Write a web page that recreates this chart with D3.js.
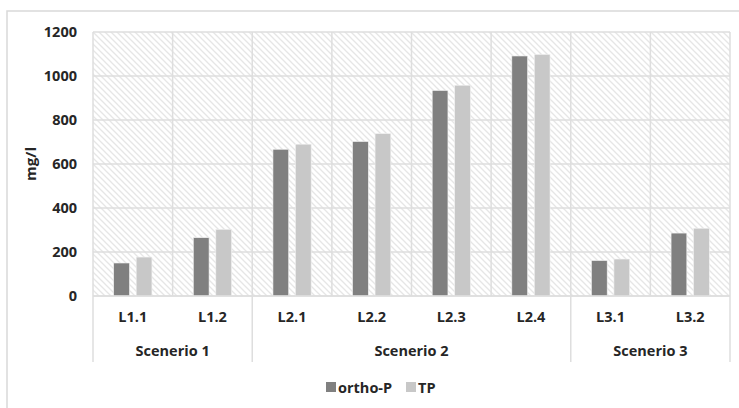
<!DOCTYPE html>
<html>
<head>
<meta charset="utf-8">
<script src="https://cdn.jsdelivr.net/npm/d3@7"></script>
<style>
  body { margin: 0; background: #fff; }
  text { font-family: "Open Sans", "Liberation Sans", sans-serif; font-weight: bold; fill: #262626; }
</style>
</head>
<body>
<script>
// chart data
var categories = ["L1.1", "L1.2", "L2.1", "L2.2", "L2.3", "L2.4", "L3.1", "L3.2"];
var groups = [
  {name: "Scenerio 1", from: 0, to: 2},
  {name: "Scenerio 2", from: 2, to: 6},
  {name: "Scenerio 3", from: 6, to: 8}
];
var seriesNames = ["ortho-P", "TP"];
var orthoP = [150, 265, 667, 702, 934, 1091, 161, 286];
var tp = [177, 303, 690, 738, 958, 1098, 168, 308];
var yTicks = [0, 200, 400, 600, 800, 1000, 1200];
var colors = ["#808080", "#c8c8c8"];

var width = 739, height = 408;
var m = {left: 93, top: 32, right: 9, bottom: 112};
var pw = width - m.left - m.right, ph = height - m.top - m.bottom;

var svg = d3.select("body").append("svg")
    .attr("width", width)
    .attr("height", height);

// hatch pattern for plot background
var defs = svg.append("defs");
var pat = defs.append("pattern")
    .attr("id", "hatch")
    .attr("patternUnits", "userSpaceOnUse")
    .attr("width", 6).attr("height", 6);
pat.append("rect").attr("width", 6).attr("height", 6).attr("fill", "#fff");
pat.append("path")
    .attr("d", "M-1,-1 L7,7 M-4,2 L2,8 M4,-2 L8,2")
    .attr("stroke", "#e6e6e6")
    .attr("stroke-width", 1.3);

// outer chart border (clipped by the picture on right/bottom)
svg.append("rect")
    .attr("x", 7).attr("y", 11)
    .attr("width", 740).attr("height", 410)
    .attr("fill", "none")
    .attr("stroke", "#d9d9d9")
    .attr("stroke-width", 1.5);

var g = svg.append("g").attr("transform", "translate(" + m.left + "," + m.top + ")");

var x = d3.scaleBand().domain(categories).range([0, pw]);
var y = d3.scaleLinear().domain([0, 1200]).range([ph, 0]);

g.append("rect")
    .attr("width", pw).attr("height", ph)
    .attr("fill", "url(#hatch)");

// horizontal grid
g.selectAll(".hgrid").data(yTicks).enter().append("line")
    .attr("x1", 0).attr("x2", pw)
    .attr("y1", function(d) { return y(d); })
    .attr("y2", function(d) { return y(d); })
    .attr("stroke", "#dedede").attr("stroke-width", 1.5);

// vertical grid at category boundaries
var bounds = d3.range(categories.length + 1).map(function(i) { return i * x.step(); });
g.selectAll(".vgrid").data(bounds).enter().append("line")
    .attr("x1", function(d) { return d; }).attr("x2", function(d) { return d; })
    .attr("y1", 0).attr("y2", ph)
    .attr("stroke", "#dedede").attr("stroke-width", 1.5);

// bars
var x1 = d3.scaleBand().domain(seriesNames).range([x.step() * 0.26, x.step() * 0.74]).paddingInner(0.3);
var rows = categories.map(function(c, i) { return {cat: c, vals: [orthoP[i], tp[i]]}; });
var cat = g.selectAll(".cat").data(rows).enter().append("g")
    .attr("transform", function(d) { return "translate(" + x(d.cat) + ",0)"; });
cat.selectAll("rect").data(function(d) { return d.vals; }).enter().append("rect")
    .attr("x", function(d, i) { return x1(seriesNames[i]); })
    .attr("width", x1.bandwidth())
    .attr("y", function(d) { return y(d); })
    .attr("height", function(d) { return ph - y(d); })
    .attr("fill", function(d, i) { return colors[i]; })
    .attr("stroke", "#f2f2f2").attr("stroke-width", 0.6);

// y axis
var yAxis = g.append("g").call(d3.axisLeft(y).tickValues(yTicks).tickFormat(d3.format("d")).tickSize(0).tickPadding(16));
yAxis.select(".domain").remove();
yAxis.selectAll("text").style("font-size", "14.5px").attr("fill", "#262626");

svg.append("text")
    .attr("transform", "translate(36," + (m.top + ph / 2) + ") rotate(-90)")
    .attr("text-anchor", "middle")
    .style("font-size", "15px")
    .text("mg/l");

// category axis
g.append("line").attr("x1", 0).attr("x2", pw).attr("y1", ph).attr("y2", ph)
    .attr("stroke", "#dedede").attr("stroke-width", 1.5);
var xAxis = g.append("g").attr("transform", "translate(0," + ph + ")")
    .call(d3.axisBottom(x).tickSize(0).tickPadding(16));
xAxis.select(".domain").remove();
xAxis.selectAll("text").style("font-size", "14.5px").attr("fill", "#262626");

// group separators and labels
var gb = [0].concat(groups.map(function(d) { return d.to * x.step(); }));
g.selectAll(".sep").data(gb).enter().append("line")
    .attr("x1", function(d) { return d; }).attr("x2", function(d) { return d; })
    .attr("y1", ph).attr("y2", ph + 66)
    .attr("stroke", "#dedede").attr("stroke-width", 1.5);
g.selectAll(".grp").data(groups).enter().append("text")
    .attr("x", function(d) { return (d.from + d.to) / 2 * x.step(); })
    .attr("y", ph + 60)
    .attr("text-anchor", "middle")
    .style("font-size", "14.5px")
    .text(function(d) { return d.name; });

// legend
var legend = svg.append("g").attr("transform", "translate(326,382)");
var lx = [0, 80];
var li = legend.selectAll("g").data(seriesNames).enter().append("g")
    .attr("transform", function(d, i) { return "translate(" + lx[i] + ",0)"; });
li.append("rect").attr("width", 10).attr("height", 10)
    .attr("fill", function(d, i) { return colors[i]; });
li.append("text").attr("x", 12).attr("y", 10.5)
    .style("font-size", "14.5px")
    .text(function(d) { return d; });
</script>
</body>
</html>
